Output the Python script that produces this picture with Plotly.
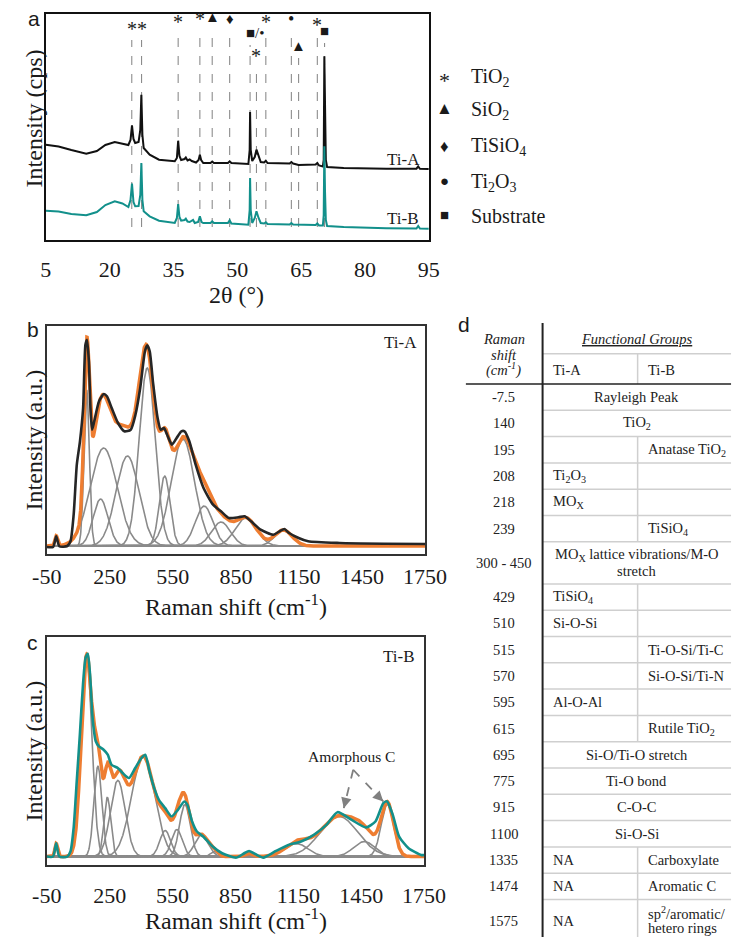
import numpy as np
import plotly.graph_objects as go

W, H = 746, 937
SERIF = "Liberation Serif, Times New Roman, serif"
SANS = "Liberation Sans, Arial, sans-serif"
INK = "#1a1a1a"

# ---------------- (a) XRD data ----------------
xrd_tiA_2theta = [5.0, 8.0, 11.0, 14.5, 17.0, 19.0, 21.2, 23.0, 24.4, 24.9, 25.25, 25.6, 26.0, 26.8, 27.2, 27.45,
                  27.7, 28.0, 29.4, 31.6, 35.3, 35.8, 36.1, 36.4, 36.8, 37.6, 37.9, 38.3, 38.8, 39.3, 40.3, 40.9,
                  41.2, 41.5, 42.0, 43.7, 44.1, 44.5, 47.8, 48.2, 48.6, 52.6, 52.9, 53.0, 53.15, 53.5, 54.1, 54.5,
                  55.0, 55.5, 56.3, 56.7, 57.1, 62.3, 62.7, 63.1, 64.4, 68.4, 68.8, 69.2, 70.1, 70.3, 70.45, 70.6,
                  70.8, 71.1, 75.0, 85.0, 92.1, 92.5, 92.9, 95.0]
xrd_tiA_int = [95.3, 93.5, 90.0, 86.3, 89.0, 95.0, 98.0, 96.5, 95.0, 100.0, 114.7, 101.0, 97.0, 98.0, 110.0, 145.3,
               105.0, 92.0, 85.3, 80.3, 78.7, 82.0, 99.3, 84.0, 80.0, 81.0, 82.5, 79.5, 80.5, 79.0, 77.5, 80.0,
               85.3, 80.0, 77.0, 77.0, 78.5, 77.0, 77.0, 78.7, 77.0, 76.0, 90.0, 128.0, 90.0, 79.0, 83.0, 90.3,
               84.0, 78.0, 77.5, 79.3, 77.0, 76.5, 78.0, 76.5, 75.0, 75.5, 77.0, 74.5, 73.5, 80.0, 183.7, 120.0,
               80.0, 73.0, 72.0, 71.3, 71.3, 73.5, 71.2, 71.0]
xrd_tiB_2theta = [5.0, 8.0, 11.0, 14.5, 17.0, 19.0, 21.2, 23.0, 24.4, 24.9, 25.25, 25.6, 26.0, 26.8, 27.2, 27.45,
                  27.7, 28.0, 29.4, 31.6, 35.3, 35.8, 36.1, 36.4, 36.8, 37.6, 37.9, 38.3, 38.8, 39.3, 39.6, 40.0,
                  40.8, 41.2, 41.6, 42.0, 43.7, 44.1, 44.5, 47.8, 48.2, 48.6, 52.6, 52.9, 53.0, 53.15, 53.5, 54.1,
                  54.5, 55.0, 55.5, 56.3, 56.7, 57.1, 62.3, 62.7, 63.1, 68.4, 68.8, 69.2, 70.1, 70.3, 70.45, 70.6,
                  70.8, 71.1, 75.0, 85.0, 92.1, 92.5, 92.9, 95.0]
xrd_tiB_int = [29.3, 28.5, 26.0, 24.7, 28.0, 35.0, 38.7, 36.5, 33.0, 40.0, 56.3, 38.0, 33.7, 34.0, 45.0, 77.0,
               40.0, 28.7, 23.7, 19.3, 17.0, 22.0, 36.0, 23.0, 19.3, 20.0, 21.3, 18.5, 18.0, 19.5, 20.0, 17.0,
               18.0, 23.7, 18.0, 17.0, 17.0, 18.7, 17.0, 17.0, 19.7, 16.5, 15.3, 30.0, 62.0, 30.0, 17.0, 22.0,
               28.7, 22.0, 17.0, 16.5, 17.7, 16.0, 15.5, 17.0, 15.5, 15.0, 16.5, 14.5, 14.5, 25.0, 93.7, 50.0,
               20.0, 14.0, 13.0, 11.8, 11.5, 14.0, 11.5, 11.3]
xrd_ticks = [5, 20, 35, 50, 65, 80, 95]
phase_peak_2theta = [25.2, 27.5, 36.1, 41.2, 44.1, 48.2, 53.0, 54.5, 56.7, 62.7, 64.4, 68.8, 70.5]
phase_peak_symbol = ["*", "*", "*", "*", "▲", "♦", "■/•", "*", "*", "•", "▲", "*", "■"]
phase_label_height = [206, 206, 213, 216, 217, 215, 201, 179, 213, 215, 188, 210, 203]
legend_symbols = ["*", "▲", "♦", "●", "■"]
legend_labels = ["TiO<sub>2</sub>", "SiO<sub>2</sub>", "TiSiO<sub>4</sub>", "Ti<sub>2</sub>O<sub>3</sub>", "Substrate"]

# ---------------- (b),(c) Raman data ----------------
raman_ticks = [-50, 250, 550, 850, 1150, 1450, 1750]
tiA_fit_center = [-5, 140, 206, 221, 334, 428, 511, 598, 699, 779, 897, 1076]
tiA_fit_height = [10, 156, 47, 98, 90, 178, 70, 107, 40, 24, 28, 16]
tiA_fit_fwhm = [15, 30, 83, 150, 128, 90, 60, 130, 98, 105, 120, 98]
tiB_fit_center = [-5, 140, 194, 239, 289, 410, 515, 571, 609, 688, 749, 915, 1141, 1344, 1465, 1575]
tiB_fit_height = [13, 200, 90, 59, 76, 100, 26, 27, 52, 22, 5, 3.3, 13, 40, 15, 52]
tiB_fit_fwhm = [15, 60, 45, 38, 83, 130, 60, 60, 60, 75, 40, 40, 128, 211, 120, 70]

tiA_meas_shift = [-50, -20, -5, 10, 48, 63, 78, 93, 108, 123, 134, 141.5, 150.5, 158, 165.6, 176, 198.7, 221.3,
                  236.4, 259, 289, 319, 349.5, 372, 394.7, 417.3, 428, 440, 455, 477.6, 492.7, 507.8, 522.8,
                  545.5, 568, 590.7, 605.7, 628.4, 658.5, 696, 741.4, 779, 816.8, 862, 892, 922, 967.6, 1028,
                  1058, 1080.6, 1103, 1148.5, 1193.7, 1344, 1555.5, 1750]
tiA_meas_int = [-1, -1, 9.7, -0.3, 0, 4.7, 31.3, 81.3, 104.7, 138, 201.3, 206.3, 184.7, 138, 116.3, 124.7, 144.7,
                152, 149.7, 138, 123, 114.7, 116.3, 131.3, 158, 194.7, 200.7, 194.7, 164.7, 128, 116.3, 118,
                111.3, 101.3, 108, 114.7, 114.7, 104.7, 81.3, 58, 41.3, 34.7, 28, 28.7, 29.7, 24.7, 16.3, 11.3,
                14.7, 17, 13, 8, 4.7, 3, 2.3, 2]
tiB_meas_shift = [-50, -20, -5, 10, 48, 63, 78, 93, 108, 123, 135.4, 146, 156.5, 168.6, 183.7, 198.7, 221.3, 241,
                  259, 289, 312, 342, 372, 402, 420, 440, 462.5, 485, 515, 545.5, 575.6, 605.7, 621, 643.4, 666,
                  696, 741.4, 786.6, 854.5, 892, 915, 952.5, 983, 1043, 1103, 1163.5, 1224, 1284, 1337, 1404.8,
                  1473, 1518, 1555.5, 1573.6, 1600.7, 1631, 1676, 1736.4, 1750]
tiB_meas_int = [0, 0, 13.3, 0, 0, 5, 28, 75, 122, 172, 198.3, 202.3, 181.6, 138.3, 115, 110, 106.6, 101.6, 91.6,
                88.3, 83.3, 78.3, 88.3, 98.3, 101.6, 85, 68.3, 56.6, 48.3, 40, 46.6, 55, 51.6, 35, 25, 20, 10,
                3.3, -1, 3.3, 5.6, 1.6, -1, 5.6, 11.6, 15, 21.6, 31.6, 44.3, 36.6, 29, 35, 53.3, 55, 41.6, 20,
                8.3, 1.6, 1.5]

# ---------------- (d) table data ----------------
table_shift = ["-7.5", "140", "195", "208", "218", "239", "300 - 450", "429", "510", "515", "570", "595", "615",
               "695", "775", "915", "1100", "1335", "1474", "1575"]
table_tiA = ["Rayleigh Peak", "TiO<sub>2</sub>", "", "Ti<sub>2</sub>O<sub>3</sub>", "MO<sub>X</sub>", "",
             "MO<sub>X</sub> lattice vibrations/M-O<br>stretch", "TiSiO<sub>4</sub>", "Si-O-Si", "", "", "Al-O-Al", "",
             "Si-O/Ti-O stretch", "Ti-O bond", "C-O-C", "Si-O-Si", "NA", "NA", "NA"]
table_tiB = [None, None, "Anatase TiO<sub>2</sub>", "", "", "TiSiO<sub>4</sub>", None, "", "", "Ti-O-Si/Ti-C",
             "Si-O-Si/Ti-N", "", "Rutile TiO<sub>2</sub>", None, None, None, None, "Carboxylate", "Aromatic C",
             "sp<sup>2</sup>/aromatic/<br>hetero rings"]   # None = cell shared by Ti-A and Ti-B


def gauss(x, c, h, fwhm):
    return h * np.exp(-4 * np.log(2) * (x - c) ** 2 / fwhm ** 2)


def xdom(x0, x1):
    return [x0 / W, x1 / W]


def ydom(y0, y1):
    return [1 - y1 / H, 1 - y0 / H]


fig = go.Figure()

# ---- (a) traces ----
dx, dy = [], []
for p, top in zip(phase_peak_2theta, phase_label_height):
    dx += [p, p, None]
    dy += [13, top - 6, None]
fig.add_trace(go.Scatter(x=dx, y=dy, mode="lines", line=dict(color="#8c8c8c", width=1.1, dash="dash"),
                         xaxis="x", yaxis="y", hoverinfo="skip"))
fig.add_trace(go.Scatter(x=xrd_tiA_2theta, y=xrd_tiA_int, mode="lines", line=dict(color="#111111", width=2),
                         xaxis="x", yaxis="y", name="Ti-A"))
fig.add_trace(go.Scatter(x=xrd_tiB_2theta, y=xrd_tiB_int, mode="lines", line=dict(color="#12908b", width=2),
                         xaxis="x", yaxis="y", name="Ti-B"))

# ---- (b),(c) traces ----
grid = np.linspace(-50, 1750, 1801)
GREY = "#8a8a8a"
ORANGE = "#ee7d31"
for (cs, hs, ws, meas_x, meas_y, mcol, xa, ya) in [
        (tiA_fit_center, tiA_fit_height, tiA_fit_fwhm, tiA_meas_shift, tiA_meas_int, "#262626", "x2", "y2"),
        (tiB_fit_center, tiB_fit_height, tiB_fit_fwhm, tiB_meas_shift, tiB_meas_int, "#12908b", "x3", "y3")]:
    total = np.zeros_like(grid)
    for c, h, w in zip(cs, hs, ws):
        comp = gauss(grid, c, h, w)
        total += comp
        fig.add_trace(go.Scatter(x=grid, y=comp, mode="lines", line=dict(color=GREY, width=1.6),
                                 xaxis=xa, yaxis=ya, hoverinfo="skip"))
    fig.add_trace(go.Scatter(x=grid, y=total, mode="lines", line=dict(color=ORANGE, width=3.5),
                             xaxis=xa, yaxis=ya, name="fit"))
    fig.add_trace(go.Scatter(x=meas_x, y=meas_y, mode="lines", line=dict(color=mcol, width=2.6, shape="spline",
                                                                         smoothing=0.6),
                             xaxis=xa, yaxis=ya, name="measured"))

# Amorphous C dashed arrows (panel c)
arrow_tail = (1412, 86.6)
arrow_tips = [(1367, 48.3), (1555.5, 55)]
ax_, ay_ = [], []
for tx, ty in arrow_tips:
    ax_ += [arrow_tail[0], tx, None]
    ay_ += [arrow_tail[1], ty, None]
fig.add_trace(go.Scatter(x=ax_, y=ay_, mode="lines", line=dict(color="#808080", width=1.8, dash="dash"),
                         xaxis="x3", yaxis="y3", hoverinfo="skip"))

common = dict(showgrid=False, zeroline=False, showline=True, mirror=True, ticks="", fixedrange=True)
fig.update_layout(
    width=W, height=H, margin=dict(l=0, r=0, t=0, b=0),
    paper_bgcolor="white", plot_bgcolor="white", showlegend=False,
    font=dict(family=SERIF, color=INK),
    xaxis=dict(domain=xdom(24, 427), range=[5, 95], tickvals=xrd_ticks, linecolor="#111", linewidth=1.6,
               tickfont=dict(size=22, family=SERIF, color=INK), ticklabelstandoff=9, anchor="y", **common),
    yaxis=dict(domain=ydom(6, 232), range=[0, 226], showticklabels=False, linecolor="#111", linewidth=1.6,
               anchor="x", **common),
    xaxis2=dict(domain=xdom(25, 423), range=[-50, 1750], tickvals=raman_ticks,
                ticktext=[str(v) for v in raman_ticks], linecolor="#333", linewidth=2,
                tickfont=dict(size=22, family=SERIF, color=INK), ticklabelstandoff=2, anchor="y2", **common),
    yaxis2=dict(domain=ydom(318, 546), range=[-8, 220], showticklabels=False, linecolor="#333", linewidth=2,
                anchor="x2", **common),
    xaxis3=dict(domain=xdom(25, 422), range=[-50, 1750], tickvals=raman_ticks,
                ticktext=[str(v) for v in raman_ticks], linecolor="#333", linewidth=2,
                tickfont=dict(size=22, family=SERIF, color=INK), ticklabelstandoff=10, anchor="y3", **common),
    yaxis3=dict(domain=ydom(629, 857), range=[-8.4, 219], showticklabels=False, linecolor="#333", linewidth=2,
                anchor="x3", **common),
)

ann = []
shapes = []


def pa(x, y, text, size, xanchor="center", family=SERIF, color=INK, **kw):
    ann.append(dict(x=x / W, y=1 - y / H, xref="paper", yref="paper", text=text, showarrow=False,
                    xanchor=xanchor, yanchor="middle", font=dict(family=family, size=size, color=color), **kw))


def da(x, y, text, size, xa, ya, **kw):
    ann.append(dict(x=x, y=y, xref=xa, yref=ya, text=text, showarrow=False, xanchor="center", yanchor="middle",
                    font=dict(family=SERIF, size=size, color=INK), **kw))


def hline(x0, x1, y, color, width):
    shapes.append(dict(type="line", xref="paper", yref="paper", x0=x0 / W, x1=x1 / W, y0=1 - y / H, y1=1 - y / H,
                       line=dict(color=color, width=width)))


def vline(x, y0, y1, color, width):
    shapes.append(dict(type="line", xref="paper", yref="paper", x0=x / W, x1=x / W, y0=1 - y0 / H, y1=1 - y1 / H,
                       line=dict(color=color, width=width)))


# panel letters
pa(12, 10, "a", 21, family=SANS)
pa(10, 321, "b", 21, family=SANS)
pa(10, 634, "c", 21, family=SANS)
pa(464, 316, "d", 21, family=SANS)

# axis titles
pa(12, 110, "Intensity (cps)", 24, textangle=-90)
pa(225, 287, "2θ (°)", 24)
pa(12, 432, "Intensity (a.u.)", 24, textangle=-90)
pa(224, 597, "Raman shift (cm<sup>-1</sup>)", 24)
pa(12, 743, "Intensity (a.u.)", 24, textangle=-90)
pa(224, 911, "Raman shift (cm<sup>-1</sup>)", 24)

# XRD phase labels
for p, sym, hgt in zip(phase_peak_2theta, phase_peak_symbol, phase_label_height):
    if sym == "*":
        da(p, hgt, "*", 20, "x", "y", yshift=5)
    elif sym == "■/•":
        da(p, hgt, "■/•", 15, "x", "y", xshift=5, yshift=6)
    elif sym == "•":
        da(p, hgt, "•", 18, "x", "y", yshift=6)
    else:
        da(p, hgt, sym, 15, "x", "y", yshift=6)

# XRD sample labels
da(89, 80.5, "Ti-A", 17, "x", "y")
da(89, 21.5, "Ti-B", 17, "x", "y")

# XRD legend
leg_y = [69, 101, 138, 173, 207]
leg_size = [22, 17, 17, 15, 15]
for sym, lab, yy, fs in zip(legend_symbols, legend_labels, leg_y, leg_size):
    if sym == "*":
        pa(443, yy + 4, sym, fs)
    else:
        pa(443, yy, sym, fs)
    pa(469, yy + 1, lab, 20, xanchor="left")

# Raman labels
da(1631, 203, "Ti-A", 17, "x2", "y2")
da(1631, 200, "Ti-B", 17, "x3", "y3")
da(1405, 100.3, "Amorphous C", 15.5, "x3", "y3")
for (tx, ty), (oax, oay) in zip(arrow_tips, [(2, -8), (-6, -6)]):
    ann.append(dict(x=tx, y=ty, xref="x3", yref="y3", ax=oax, ay=oay, text="", showarrow=True,
                    arrowhead=2, arrowsize=1.3, arrowwidth=1.6, arrowcolor="#808080", standoff=0))

# ---------------- (d) table ----------------
TB_LEFT, TB_DIV, TB_MID, TB_RIGHT = 466, 546.7, 646.7, 745
TB_TOP, HEAD_SUB, HEAD_BOT = 315, 345.7, 376
ROW_H, ROW_H2 = 26.3, 42.1
LGREY = "#cfcfcf"
TFS = 14.5
TCOL = "#222222"

pa(506, 331.5, "<i>Raman</i>", TFS, color=TCOL)
pa(506, 346.5, "<i>shift</i>", TFS, color=TCOL)
pa(506, 362, "<i>(cm<sup>-1</sup>)</i>", TFS, color=TCOL)
pa(646, 331.5, "<i><u>Functional Groups</u></i>", TFS, color=TCOL)
pa(556, 362, "Ti-A", TFS, xanchor="left", color=TCOL)
pa(656, 362, "Ti-B", TFS, xanchor="left", color=TCOL)
hline(TB_DIV, TB_RIGHT, HEAD_SUB, LGREY, 1.5)
vline(TB_MID, HEAD_SUB, HEAD_BOT, LGREY, 1.5)
hline(TB_LEFT, TB_RIGHT, HEAD_BOT, "#222", 1.6)


def cell_text(x, yc, text, xanchor):
    lines = text.split("<br>")
    n = len(lines)
    for k, ln in enumerate(lines):
        pa(x, yc + (k - (n - 1) / 2) * 15.4, ln, TFS, xanchor=xanchor, color=TCOL)


y = HEAD_BOT
nrows = len(table_shift)
for i in range(nrows):
    a_txt, b_txt = table_tiA[i], table_tiB[i]
    double = "<br>" in a_txt or (b_txt is not None and "<br>" in b_txt)
    rh = ROW_H2 if double else ROW_H
    yc = y + rh / 2
    cell_text(506, yc, table_shift[i], "center")
    if b_txt is None:
        cell_text(646, yc, a_txt, "center")
    else:
        if a_txt:
            cell_text(556, yc, a_txt, "left")
        if b_txt:
            cell_text(656, yc, b_txt, "left")
        vline(TB_MID, y, y + rh, LGREY, 1.5)
    y += rh
    if i < nrows - 1:
        hline(TB_DIV, TB_RIGHT, y, LGREY, 1.5)
vline(TB_DIV, TB_TOP, y + 1, "#222", 2)

fig.update_layout(annotations=ann, shapes=shapes)
fig.write_html("out.html")
